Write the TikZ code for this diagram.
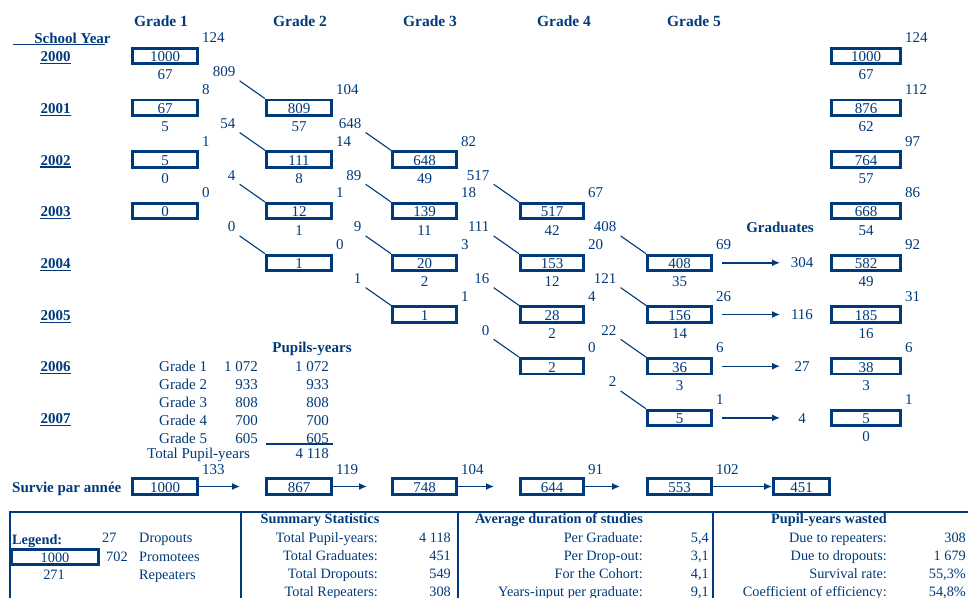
\documentclass[tikz,border=0pt]{standalone}
\usepackage{fontspec}
\setmainfont{Liberation Serif}
\usetikzlibrary{calc,arrows.meta}
\definecolor{navy}{RGB}{0,58,122}
\newcommand\fsA{\fontsize{15}{18}\selectfont}
\newcommand\fsH{\fontsize{15.5}{18}\selectfont}
\newcommand\fsB{\fontsize{14.3}{17}\selectfont}
\tikzset{
  cbox/.style={draw=navy, line width=2.8pt, inner sep=0pt, minimum height=15.4pt, text=navy, font=\fsA, text height=11.6pt, text depth=0pt},
  lbl/.style={inner sep=0pt, text=navy, font=\fsA, text height=10.2pt, text depth=0pt},
  blbl/.style={inner sep=0pt, text=navy, font=\fsA\bfseries, text height=10.2pt, text depth=0pt},
  hdr/.style={inner sep=0pt, text=navy, font=\fsH\bfseries, text height=10.4pt, text depth=0pt},
  slbl/.style={inner sep=0pt, text=navy, font=\fsB, text height=9.7pt, text depth=0pt},
  sblbl/.style={inner sep=0pt, text=navy, font=\fsB\bfseries, text height=9.7pt, text depth=0pt},
  pline/.style={draw=navy, line width=1.1pt},
  uline/.style={draw=navy, line width=1.2pt},
  garrow/.style={draw=navy, line width=1.4pt, -{Latex[length=8pt,width=7pt]}},
  frameline/.style={draw=navy, line width=2pt},
}
% box: name, centre x, row, outer width, value
\newcommand\cellbox[5]{\node[cbox, minimum width={#4-2.8}] (#1) at (#2,{56+51.7*#3}) {#5};}
% dropouts (top right)
\newcommand\droplbl[2]{\node[lbl,anchor=west] (#1-d) at ($(#1.north east)+(3,-9.4)$) {#2};}
% repeaters (below)
\newcommand\replbl[2]{\node[lbl] (#1-r) at ($(#1.south)+(0,9.7)$) {#2};}
% promotees: source, target, value
\newcommand\promlbl[3]{\node[lbl,anchor=east] (#1-p) at ($(#2.north west)+(-29.4,-27.1)$) {#3};
  \draw[pline] ($(#1-p.south east)+(4,4)$) -- (#2.north west);}
% summary row: name, y, left label, value, label x, value x
\newcommand\sumrow[6]{\node[slbl,anchor=east] (#1l) at (#5,#2) {#3};
  \node[slbl,anchor=east] (#1v) at (#6,#2) {#4};}
\def\cA{165}\def\cB{299}\def\cC{424.5}\def\cD{552}\def\cE{679.5}\def\cR{866}
\begin{document}
\begin{tikzpicture}[x=1pt,y=-1pt]
\fill[white] (0,0) rectangle (968,597);
\useasboundingbox (0,0) rectangle (968,597);

% headers
\node[hdr] (h1) at (161,21) {Grade 1};
\node[hdr] (h2) at (300,21) {Grade 2};
\node[hdr] (h3) at (430,21) {Grade 3};
\node[hdr] (h4) at (564,21) {Grade 4};
\node[hdr] (h5) at (694,21) {Grade 5};
\node[blbl] (sy) at (72.5,38.5) {School Year};
\draw[uline] ($(sy.base west)+(-21,1)$) -- ($(sy.base east)+(-6,1)$);

% year labels
\foreach \i/\yy in {0/2000,1/2001,2/2002,3/2003,4/2004,5/2005,6/2006,7/2007}{
  \node[blbl] (yr\i) at (55.5,{56.5+51.7*\i}) {\yy};
  \draw[uline] ($(yr\i.base west)+(0,2)$) -- ($(yr\i.base east)+(0,2)$);
}

% boxes
\cellbox{a0}{\cA}{0}{68}{1000}
\cellbox{a1}{\cA}{1}{68}{67}
\cellbox{a2}{\cA}{2}{68}{5}
\cellbox{a3}{\cA}{3}{68}{0}
\cellbox{b1}{\cB}{1}{68}{809}
\cellbox{b2}{\cB}{2}{68}{111}
\cellbox{b3}{\cB}{3}{68}{12}
\cellbox{b4}{\cB}{4}{68}{1}
\cellbox{c2}{\cC}{2}{67}{648}
\cellbox{c3}{\cC}{3}{67}{139}
\cellbox{c4}{\cC}{4}{67}{20}
\cellbox{c5}{\cC}{5}{67}{1}
\cellbox{d3}{\cD}{3}{66}{517}
\cellbox{d4}{\cD}{4}{66}{153}
\cellbox{d5}{\cD}{5}{66}{28}
\cellbox{d6}{\cD}{6}{66}{2}
\cellbox{e4}{\cE}{4}{67}{408}
\cellbox{e5}{\cE}{5}{67}{156}
\cellbox{e6}{\cE}{6}{67}{36}
\cellbox{e7}{\cE}{7}{67}{5}
\cellbox{r0}{\cR}{0}{72}{1000}
\cellbox{r1}{\cR}{1}{72}{876}
\cellbox{r2}{\cR}{2}{72}{764}
\cellbox{r3}{\cR}{3}{72}{668}
\cellbox{r4}{\cR}{4}{72}{582}
\cellbox{r5}{\cR}{5}{72}{185}
\cellbox{r6}{\cR}{6}{72}{38}
\cellbox{r7}{\cR}{7}{72}{5}

% dropouts
\droplbl{a0}{124}\droplbl{a1}{8}\droplbl{a2}{1}\droplbl{a3}{0}
\droplbl{b1}{104}\droplbl{b2}{14}\droplbl{b3}{1}\droplbl{b4}{0}
\droplbl{c2}{82}\droplbl{c3}{18}\droplbl{c4}{3}\droplbl{c5}{1}
\droplbl{d3}{67}\droplbl{d4}{20}\droplbl{d5}{4}\droplbl{d6}{0}
\droplbl{e4}{69}\droplbl{e5}{26}\droplbl{e6}{6}\droplbl{e7}{1}
\droplbl{r0}{124}\droplbl{r1}{112}\droplbl{r2}{97}\droplbl{r3}{86}
\droplbl{r4}{92}\droplbl{r5}{31}\droplbl{r6}{6}\droplbl{r7}{1}

% repeaters
\replbl{a0}{67}\replbl{a1}{5}\replbl{a2}{0}
\replbl{b1}{57}\replbl{b2}{8}\replbl{b3}{1}
\replbl{c2}{49}\replbl{c3}{11}\replbl{c4}{2}
\replbl{d3}{42}\replbl{d4}{12}\replbl{d5}{2}
\replbl{e4}{35}\replbl{e5}{14}\replbl{e6}{3}
\replbl{r0}{67}\replbl{r1}{62}\replbl{r2}{57}\replbl{r3}{54}
\replbl{r4}{49}\replbl{r5}{16}\replbl{r6}{3}\replbl{r7}{0}

% promotees
\promlbl{a0}{b1}{809}\promlbl{a1}{b2}{54}\promlbl{a2}{b3}{4}\promlbl{a3}{b4}{0}
\promlbl{b1}{c2}{648}\promlbl{b2}{c3}{89}\promlbl{b3}{c4}{9}\promlbl{b4}{c5}{1}
\promlbl{c2}{d3}{517}\promlbl{c3}{d4}{111}\promlbl{c4}{d5}{16}\promlbl{c5}{d6}{0}
\promlbl{d3}{e4}{408}\promlbl{d4}{e5}{121}\promlbl{d5}{e6}{22}\promlbl{d6}{e7}{2}

% graduates
\node[blbl] (gradt) at (780,227) {Graduates};
\foreach \i/\v in {4/304,5/116,6/27,7/4}{
  \node[lbl] (gd\i) at (802,{56+51.7*\i}) {\v};
  \coordinate (ge\i) at (780,{56+51.7*\i});
  \draw[garrow] ($(e\i.east)+(9.4,0)$) -- (ge\i);
}

% pupil-years table
\node[blbl] (pyt) at (312,347) {Pupils-years};
\foreach \k/\v in {1/1 072,2/933,3/808,4/700,5/605}{
  \node[lbl,anchor=west] (pg\k) at (159,{366+18*(\k-1)}) {Grade \k};
  \node[lbl,anchor=east] (pa\k) at (258,{366+18*(\k-1)}) {\v};
  \node[lbl,anchor=east] (pb\k) at (329,{366+18*(\k-1)}) {\v};
}
\draw[uline,line width=1.5pt] (266,444) -- (333,444);
\node[lbl,anchor=west] (ptl) at (147,453.3) {Total Pupil-years};
\node[lbl,anchor=east] (ptv) at (329,453.3) {4 118};

% survival per year
\node[blbl,anchor=west] (sv) at (12,487) {Survie par année};
\node[cbox, minimum width=65.2] (s1) at (\cA,486.5) {1000};
\node[cbox, minimum width=65.2] (s2) at (\cB,486.5) {867};
\node[cbox, minimum width=64.2] (s3) at (\cC,486.5) {748};
\node[cbox, minimum width=63.2] (s4) at (\cD,486.5) {644};
\node[cbox, minimum width=64.2] (s5) at (\cE,486.5) {553};
\node[cbox, minimum width=56.2] (s6) at (801.5,486.5) {451};
\coordinate (sa1) at (240,486.5);
\coordinate (sa2) at (367,486.5);
\coordinate (sa3) at (494,486.5);
\coordinate (sa4) at (620,486.5);
\draw[garrow] (s1.east) -- (sa1);
\draw[garrow] (s2.east) -- (sa2);
\draw[garrow] (s3.east) -- (sa3);
\draw[garrow] (s4.east) -- (sa4);
\draw[garrow] (s5.east) -- (s6.west);
\node[lbl,anchor=west] (sl1) at ($(s1.north east)+(3,-8.4)$) {133};
\node[lbl,anchor=west] (sl2) at ($(s2.north east)+(3,-8.4)$) {119};
\node[lbl,anchor=west] (sl3) at ($(s3.north east)+(3,-8.4)$) {104};
\node[lbl,anchor=west] (sl4) at ($(s4.north east)+(3,-8.4)$) {91};
\node[lbl,anchor=west] (sl5) at ($(s5.north east)+(3,-8.4)$) {102};

% bottom panel
\draw[frameline] (970,512) -- (10,512) -- (10,600);
\draw[frameline] (241,512) -- (241,600);
\draw[frameline] (458,512) -- (458,600);
\draw[frameline] (713,512) -- (713,600);

% legend
\node[sblbl,anchor=west] (lgt) at (12,540) {Legend:};
\node[cbox, font=\fsB, minimum width=87.2] (lg) at (55,557) {1000};
\node[slbl,anchor=west] (lgd) at (102,538) {27};
\node[slbl,anchor=west] (lgp) at (106,557) {702};
\node[slbl] (lgr) at (54,574.5) {271};
\node[slbl,anchor=west] (lgdt) at (139,538) {Dropouts};
\node[slbl,anchor=west] (lgpt) at (139,557) {Promotees};
\node[slbl,anchor=west] (lgrt) at (139,574.5) {Repeaters};

% summary statistics
\node[sblbl] (sst) at (320,519) {Summary Statistics};
\node[sblbl] (adt) at (559,519) {Average duration of studies};
\node[sblbl] (pwt) at (829,519) {Pupil-years wasted};
\sumrow{sa0}{537.5}{Total Pupil-years:}{4 118}{378}{451}
\sumrow{sa1}{555.7}{Total Graduates:}{451}{378}{451}
\sumrow{sa2}{573.9}{Total Dropouts:}{549}{378}{451}
\sumrow{sa3}{591.6}{Total Repeaters:}{308}{378}{451}
\sumrow{da0}{537.5}{Per Graduate:}{5,4}{643}{709}
\sumrow{da1}{555.7}{Per Drop-out:}{3,1}{643}{709}
\sumrow{da2}{573.9}{For the Cohort:}{4,1}{643}{709}
\sumrow{da3}{591.6}{Years-input per graduate:}{9,1}{643}{709}
\sumrow{wa0}{537.5}{Due to repeaters:}{308}{887}{966}
\sumrow{wa1}{555.7}{Due to dropouts:}{1 679}{887}{966}
\sumrow{wa2}{573.9}{Survival rate:}{55,3\%}{887}{966}
\sumrow{wa3}{591.6}{Coefficient of efficiency:}{54,8\%}{887}{966}
\end{tikzpicture}
\end{document}
